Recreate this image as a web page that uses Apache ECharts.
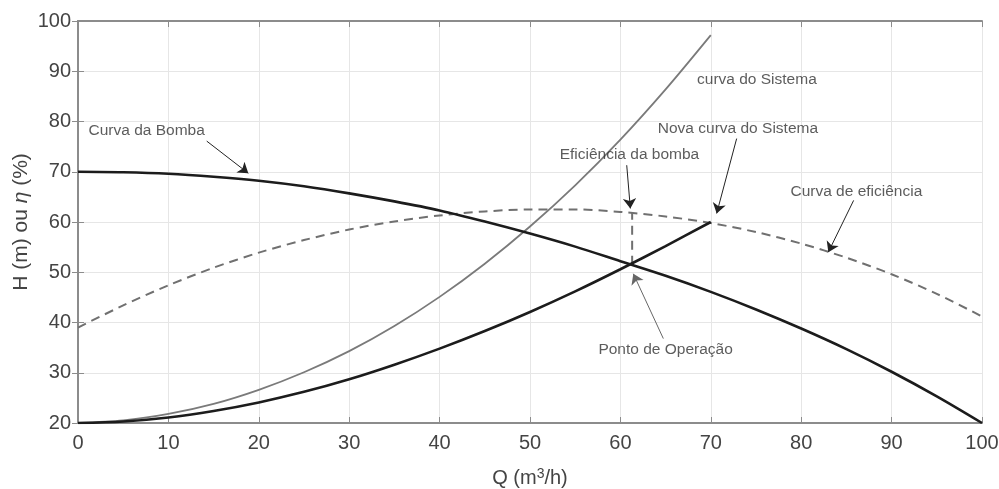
<!DOCTYPE html>
<html><head><meta charset="utf-8">
<script src="https://cdn.jsdelivr.net/npm/echarts@6/dist/echarts.min.js"></script>
<style>html,body{margin:0;padding:0;background:#fff}#c{width:999px;height:489px}</style>
</head><body><div id="c"></div>
<script>
// Q (m3/h) sample points
var qPump = [0,5,10,15,20,25,30,35,40,45,50,55,60,65,70,75,80,85,90,95,100];
var hPump = [70,69.9,69.6,69.0,68.2,67.1,65.7,64.1,62.3,60.1,57.7,55.1,52.2,49.3,46.1,42.6,38.8,34.7,30.2,25.3,20];
var qSys = [0,5,10,15,20,25,30,35,40,45,50,55,60,65,70];
var hSys = [20,20.5,21.8,23.8,26.6,30.1,34.3,39.3,45.1,51.7,59.1,67.3,76.4,86.4,97.2];
var hNewSys = [20,20.3,21.1,22.4,24.1,26.2,28.7,31.6,34.8,38.3,42.1,46.2,50.6,55.2,60.0];
var qEff = [0,5,10,15,20,25,30,35,40,45,50,55,60,65,70,75,80,85,90,95,100];
var etaEff = [39,43.4,47.4,50.9,53.9,56.4,58.5,60.1,61.3,62.1,62.5,62.5,62.0,61.1,59.8,58.0,55.7,52.9,49.6,45.7,41.2];
var opQ = 61.3, opH = 51.5, opEta = 61.8;
var xTicks = [0,100,10];
var yTicks = [20,100,10];
// annotation texts [x, y, text]
var labels = [
  [7.6,78.1,'Curva da Bomba'],
  [75.1,88.4,'curva do Sistema'],
  [73.0,78.6,'Nova curva do Sistema'],
  [61.0,73.3,'Eficiência da bomba'],
  [86.1,66.1,'Curva de eficiência'],
  [65.0,34.6,'Ponto de Operação']
];
// arrows [[x0,y0],[x1,y1]]
var arrows = [
  [[14.24,76.1],[18.84,69.7]],
  [[60.7,71.3],[61.1,62.7]],
  [[72.86,76.6],[70.65,61.7]],
  [[85.8,64.3],[83.0,54.0]]
];
var greyArrows = [
  [[64.75,36.8],[61.43,49.7]]
];

function pairs(xs, ys){ return xs.map(function(x,i){return [x, ys[i]];}); }

var chart = echarts.init(document.getElementById('c'));
var font = 'Liberation Sans, Arial, sans-serif';
var axisCommon = {
  type:'value',
  axisLine:{show:true,lineStyle:{color:'#8c8c8c',width:2}},
  axisTick:{show:true,inside:true,length:6,lineStyle:{color:'#8c8c8c',width:1}},
  axisLabel:{color:'#444',fontSize:20,fontFamily:font},
  splitLine:{show:true,lineStyle:{color:'#e6e6e6',width:1}}
};
var lineCommon = {type:'line',smooth:0.3,showSymbol:false};
chart.setOption({
  animation:false,
  grid:{left:78,right:17,top:21,bottom:66,outerBoundsMode:'none',containLabel:false},
  xAxis:[
    Object.assign({}, axisCommon, {min:xTicks[0],max:xTicks[1],interval:xTicks[2],position:'bottom',
      axisLabel:{color:'#444',fontSize:20,fontFamily:font,margin:10},
      name:'Q (m{sup|3}/h)',nameLocation:'middle',nameGap:44,
      nameTextStyle:{color:'#444',fontSize:20,fontFamily:font,
        rich:{sup:{fontSize:14,fontFamily:font,color:'#444',padding:[0,0,9,0]}}}}),
    Object.assign({}, axisCommon, {min:xTicks[0],max:xTicks[1],interval:xTicks[2],position:'top',
      axisLabel:{show:false},splitLine:{show:false}})
  ],
  yAxis:[
    Object.assign({}, axisCommon, {min:yTicks[0],max:yTicks[1],interval:yTicks[2],position:'left',
      axisLabel:{color:'#444',fontSize:20,fontFamily:font,margin:7},
      name:'H (m) ou {i|η} (%)',nameLocation:'middle',nameGap:46,nameMoveOverlap:false,
      nameTextStyle:{color:'#444',fontSize:21,fontFamily:font,
        rich:{i:{fontStyle:'italic',fontSize:21,fontFamily:font,color:'#444'}}}}),
    Object.assign({}, axisCommon, {min:yTicks[0],max:yTicks[1],interval:yTicks[2],position:'right',
      axisLabel:{show:false},splitLine:{show:false}})
  ],
  series:[
    Object.assign({}, lineCommon, {data:pairs(qEff,etaEff),
      lineStyle:{color:'#707070',width:2,type:[9,6]},z:3}),
    {type:'line',data:[[opQ,opH],[opQ,opEta]],showSymbol:false,
      lineStyle:{color:'#707070',width:2,type:[9,6]},z:3},
    Object.assign({}, lineCommon, {data:pairs(qSys,hSys),
      lineStyle:{color:'#7a7a7a',width:1.8},z:4}),
    Object.assign({}, lineCommon, {data:pairs(qSys,hNewSys),
      lineStyle:{color:'#1c1c1c',width:2.6},z:5}),
    Object.assign({}, lineCommon, {data:pairs(qPump,hPump),
      lineStyle:{color:'#1c1c1c',width:2.6},z:5}),
    {type:'lines',coordinateSystem:'cartesian2d',symbol:['none','arrow'],symbolSize:[0,10],
      lineStyle:{color:'#222',width:1,opacity:1},
      data:arrows.map(function(a){return {coords:a};}),z:6},
    {type:'lines',coordinateSystem:'cartesian2d',symbol:['none','arrow'],symbolSize:[0,10],
      lineStyle:{color:'#666',width:1,opacity:1},itemStyle:{color:'#333'},
      data:greyArrows.map(function(a){return {coords:a};}),z:6},
    {type:'scatter',symbolSize:0,silent:true,z:7,
      data:labels.map(function(l){return {value:[l[0],l[1]],name:l[2]};}),
      label:{show:true,position:'inside',formatter:function(p){return p.name;},
        color:'#333',fontSize:15.5,fontFamily:font}}
  ]
});
</script></body></html>
